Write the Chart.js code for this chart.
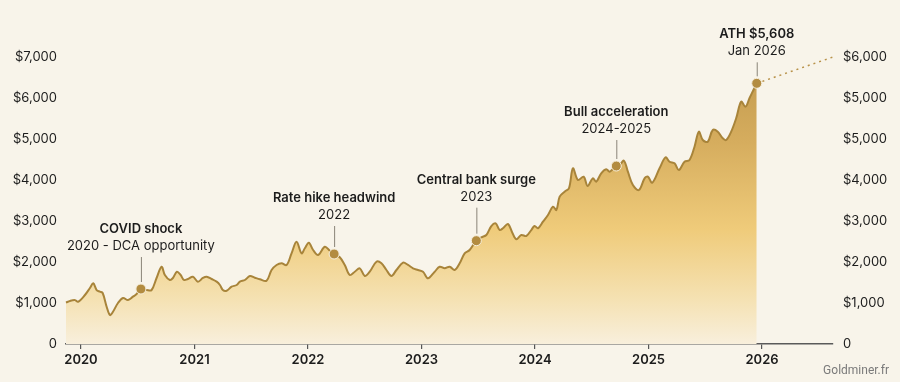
<!DOCTYPE html>
<html>
<head>
<meta charset="utf-8">
<script src="https://cdn.jsdelivr.net/npm/chart.js@4.4.1/dist/chart.umd.min.js"></script>
<style>
  html, body { margin: 0; padding: 0; background: #f8f4ea; }
  #wrap { width: 900px; height: 382px; }
</style>
</head>
<body>
<div id="wrap"><canvas id="c" width="900" height="382"></canvas></div>
<script>
// ---------- DATA ----------
const YEARS = [
  2019.868, 2019.903, 2019.947, 2019.974, 2020.035, 2020.079, 2020.108, 2020.138, 2020.167, 2020.191,
  2020.226, 2020.255, 2020.282, 2020.326, 2020.370, 2020.414, 2020.458, 2020.490, 2020.528, 2020.578,
  2020.622, 2020.666, 2020.710, 2020.739, 2020.783, 2020.810, 2020.845, 2020.878, 2020.907, 2020.942,
  2020.986, 2021.030, 2021.074, 2021.107, 2021.151, 2021.195, 2021.224, 2021.250, 2021.283, 2021.327,
  2021.371, 2021.400, 2021.444, 2021.488, 2021.532, 2021.576, 2021.635, 2021.679, 2021.723, 2021.767,
  2021.811, 2021.855, 2021.899, 2021.943, 2021.972, 2022.007, 2022.045, 2022.089, 2022.148, 2022.192,
  2022.230, 2022.280, 2022.324, 2022.368, 2022.412, 2022.456, 2022.500, 2022.544, 2022.603, 2022.647,
  2022.691, 2022.735, 2022.779, 2022.837, 2022.881, 2022.925, 2022.969, 2023.013, 2023.057, 2023.116,
  2023.160, 2023.204, 2023.248, 2023.292, 2023.336, 2023.380, 2023.424, 2023.483, 2023.527, 2023.571,
  2023.615, 2023.653, 2023.688, 2023.717, 2023.761, 2023.800, 2023.835, 2023.879, 2023.923, 2023.967,
  2023.996, 2024.026, 2024.070, 2024.114, 2024.158, 2024.188, 2024.217, 2024.261, 2024.299, 2024.334,
  2024.378, 2024.428, 2024.463, 2024.509, 2024.539, 2024.583, 2024.627, 2024.657, 2024.677, 2024.716,
  2024.745, 2024.783, 2024.818, 2024.862, 2024.915, 2024.965, 2024.994, 2025.033, 2025.097, 2025.150,
  2025.185, 2025.229, 2025.267, 2025.317, 2025.361, 2025.405, 2025.443, 2025.478, 2025.522, 2025.566,
  2025.610, 2025.654, 2025.684, 2025.728, 2025.772, 2025.816, 2025.854, 2025.889, 2025.924, 2025.953
];
const PRICES = [
  1010, 1050, 1070, 1030, 1195, 1366, 1480, 1317, 1276, 1244,
  910, 707, 788, 1000, 1122, 1073, 1154, 1220, 1341, 1317,
  1317, 1610, 1885, 1683, 1561, 1610, 1763, 1683, 1561, 1585,
  1641, 1520, 1610, 1641, 1585, 1520, 1439, 1317, 1300, 1398,
  1439, 1520, 1561, 1659, 1617, 1578, 1544, 1805, 1927, 1968,
  1927, 2212, 2495, 2212, 2334, 2471, 2293, 2171, 2373, 2276,
  2195, 2115, 1927, 1683, 1763, 1846, 1659, 1763, 2007, 1968,
  1805, 1659, 1805, 1983, 1927, 1846, 1805, 1763, 1602, 1763,
  1885, 1846, 1885, 1805, 1968, 2212, 2293, 2520, 2602, 2659,
  2878, 2944, 2780, 2822, 2927, 2715, 2554, 2659, 2634, 2780,
  2878, 2822, 2983, 3146, 3349, 3268, 3593, 3715, 3798, 4285,
  4000, 4081, 3854, 4041, 3959, 4163, 4261, 4202, 4244, 4341,
  4366, 4471, 4202, 3878, 3756, 4041, 4081, 3934, 4285, 4554,
  4446, 4407, 4244, 4446, 4488, 4812, 5178, 4976, 4934, 5219,
  5178, 5017, 4976, 5178, 5505, 5910, 5788, 5993, 6195, 6358
];
// dotted projection after the all-time high
const PROJ_YEARS = [2025.953, 2026.625];
const PROJ_PRICES = [6358, 7000];
// annotated events
const EVENT_YEARS  = [2020.528, 2022.230, 2023.483, 2024.716, 2025.953];
const EVENT_PRICES = [1341, 2195, 2520, 4341, 6358];
const EVENT_TITLES = ['COVID shock', 'Rate hike headwind', 'Central bank surge', 'Bull acceleration', 'ATH $5,608'];
const EVENT_SUBS   = ['2020 - DCA opportunity', '2022', '2023', '2024-2025', 'Jan 2026'];
// axis ticks
const X_TICKS = [2020, 2021, 2022, 2023, 2024, 2025, 2026];
const LEFT_TICKS = [0, 1000, 2000, 3000, 4000, 5000, 6000, 7000];
const RIGHT_LABELS = ['0', '$1,000', '$2,000', '$3,000', '$4,000', '$5,000', '$5,000', '$6,000'];

// ---------- STYLE ----------
const BG = '#f8f4ea';
const LINE = '#a8843a';
const DOT = '#b38c40';
const TEXT = '#1c1c1c';
const FONT = 'Inter, "Noto Sans", sans-serif';
const EVENT_LIFT = [32, 28, 33, 26, 21]; // connector length above each dot (px)

const mainData = YEARS.map((x, i) => ({ x, y: PRICES[i] }));
const projData = PROJ_YEARS.map((x, i) => ({ x, y: PROJ_PRICES[i] }));
const eventData = EVENT_YEARS.map((x, i) => ({ x, y: EVENT_PRICES[i] }));

function fillGradient(ctx) {
  const ca = ctx.chart.chartArea;
  if (!ca) return 'rgba(230,190,110,0.5)';
  const g = ctx.chart.ctx.createLinearGradient(0, ca.top, 0, ca.bottom);
  g.addColorStop(0.0, '#c0984c');
  g.addColorStop(0.3, '#d6ad5e');
  g.addColorStop(0.6, '#efcb7a');
  g.addColorStop(0.85, '#f5e2b4');
  g.addColorStop(1.0, '#f8efdc');
  return g;
}

const bgPlugin = {
  id: 'bg',
  beforeDraw(chart) {
    const c = chart.ctx;
    c.save();
    c.fillStyle = BG;
    c.fillRect(0, 0, chart.width, chart.height);
    c.restore();
  }
};

const annPlugin = {
  id: 'ann',
  afterDatasetsDraw(chart) {
    const c = chart.ctx;
    const xs = chart.scales.x, ys = chart.scales.y;
    c.save();
    EVENT_YEARS.forEach((yr, i) => {
      const px = xs.getPixelForValue(yr);
      const py = ys.getPixelForValue(EVENT_PRICES[i]);
      const top = py - EVENT_LIFT[i];
      c.strokeStyle = '#8a8478';
      c.lineWidth = 1;
      c.beginPath();
      c.moveTo(px + 0.5, py - 7);
      c.lineTo(px + 0.5, top);
      c.stroke();
      c.fillStyle = TEXT;
      c.textAlign = 'center';
      c.textBaseline = 'middle';
      c.font = '400 13px ' + FONT;
      c.fillText(EVENT_SUBS[i], px, top - 11);
      c.font = '600 13px ' + FONT;
      c.fillText(EVENT_TITLES[i], px, top - 28);
    });
    // watermark
    c.fillStyle = '#7a7a7a';
    c.font = '400 12px Roboto, sans-serif';
    c.textAlign = 'right';
    c.textBaseline = 'middle';
    c.fillText('Goldminer.fr', 889, 371);
    c.restore();
  }
};

new Chart(document.getElementById('c'), {
  type: 'line',
  data: {
    datasets: [
      {
        data: eventData,
        showLine: false,
        pointRadius: 5,
        pointBackgroundColor: DOT,
        pointBorderColor: '#f6eedb',
        pointBorderWidth: 1,
        clip: false,
        order: 0
      },
      {
        data: mainData,
        borderColor: LINE,
        borderWidth: 2,
        tension: 0.35,
        pointRadius: 0,
        fill: 'origin',
        backgroundColor: fillGradient,
        clip: false,
        order: 2
      },
      {
        data: projData,
        borderColor: '#b8924a',
        borderWidth: 1.5,
        borderDash: [2, 4],
        pointRadius: 0,
        fill: false,
        clip: false,
        order: 1
      }
    ]
  },
  options: {
    responsive: false,
    animation: false,
    devicePixelRatio: 1,
    layout: { padding: { top: 57, bottom: 0, left: 0, right: 0 } },
    plugins: { legend: { display: false }, tooltip: { enabled: false } },
    scales: {
      x: {
        type: 'linear',
        min: 2019.868,
        max: 2026.625,
        afterBuildTicks(scale) { scale.ticks = X_TICKS.map(v => ({ value: v })); },
        afterFit(scale) { scale.height = 38; },
        ticks: {
          callback: v => String(v),
          color: TEXT,
          font: { family: FONT, size: 13, weight: '600' },
          padding: 3,
          maxRotation: 0,
          autoSkip: false
        },
        grid: { drawOnChartArea: false, drawTicks: true, tickLength: 5, color: '#555', lineWidth: 1.2 },
        border: { display: true, color: '#5a5a5a', width: 1.5 }
      },
      y: {
        position: 'left',
        min: 0,
        max: 7000,
        afterBuildTicks(scale) { scale.ticks = LEFT_TICKS.map(v => ({ value: v })); },
        afterFit(scale) { scale.width = 66; },
        ticks: {
          callback: v => (v === 0 ? '0' : '$' + v.toLocaleString('en-US')),
          color: TEXT,
          font: { family: FONT, size: 13 },
          padding: 9
        },
        grid: { display: false, drawTicks: false },
        border: { display: false }
      },
      y2: {
        position: 'right',
        min: 0,
        max: 7000,
        afterBuildTicks(scale) { scale.ticks = LEFT_TICKS.map(v => ({ value: v })); },
        afterFit(scale) { scale.width = 67; },
        ticks: {
          callback: (v, i) => RIGHT_LABELS[i],
          color: TEXT,
          font: { family: FONT, size: 13 },
          padding: 10
        },
        grid: { display: false, drawTicks: false },
        border: { display: false }
      }
    }
  },
  plugins: [bgPlugin, annPlugin]
});
</script>
</body>
</html>
